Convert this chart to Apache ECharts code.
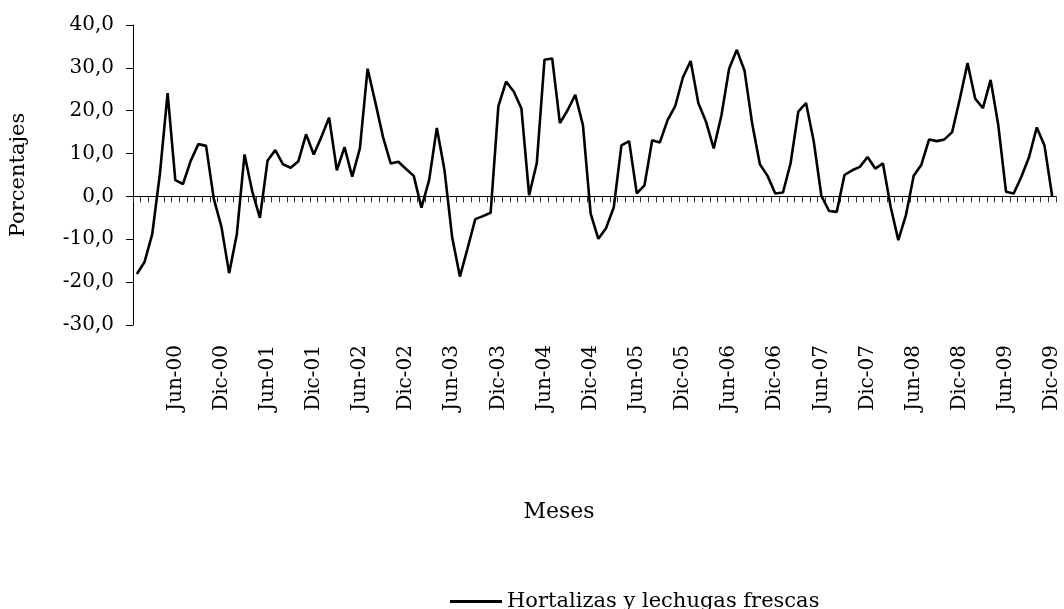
<!DOCTYPE html>
<html>
<head>
<meta charset="utf-8">
<script src="https://cdn.jsdelivr.net/npm/echarts@6/dist/echarts.min.js"></script>
<style>
  html, body { margin: 0; padding: 0; background: #fff; }
  #chart { width: 1064px; height: 609px; }
</style>
</head>
<body>
<div id="chart"></div>
<script>
// Variación interanual mensual (%), enero 2000 – diciembre 2009
const years = ['00', '01', '02', '03', '04', '05', '06', '07', '08', '09'];
const monthNames = ['Ene', 'Feb', 'Mar', 'Abr', 'May', 'Jun', 'Jul', 'Ago', 'Sep', 'Oct', 'Nov', 'Dic'];

const hortalizas = [
  -18.1, -15.3, -8.8, 5.3, 24.1, 3.8, 2.9, 8.3, 12.2, 11.8, -0.5, -7.1,
  -17.9, -8.8, 9.8, 1.2, -5.0, 8.4, 10.8, 7.5, 6.7, 8.2, 14.5, 9.8,
  13.9, 18.4, 6.1, 11.5, 4.6, 11.2, 29.8, 22.0, 13.9, 7.7, 8.1, 6.4,
  4.8, -2.6, 3.8, 16.0, 6.1, -9.6, -18.7, -12.1, -5.3, -4.6, -3.8, 21.0,
  26.8, 24.5, 20.5, 0.3, 7.8, 31.9, 32.2, 17.1, 20.1, 23.7, 16.6, -4.0,
  -9.9, -7.4, -2.6, 11.9, 12.9, 0.7, 2.6, 13.1, 12.6, 17.8, 21.1, 27.8,
  31.6, 21.8, 17.4, 11.2, 18.9, 29.8, 34.2, 29.4, 17.0, 7.5, 4.8, 0.7,
  0.9, 7.8, 19.8, 21.8, 12.9, 0.1, -3.4, -3.6, 5.0, 6.1, 6.9, 9.2,
  6.5, 7.7, -2.4, -10.2, -4.3, 4.8, 7.4, 13.3, 12.9, 13.3, 15.0, 22.8,
  31.1, 22.8, 20.6, 27.2, 16.6, 1.1, 0.7, 4.6, 9.2, 16.1, 11.9, 0.1
];

const yTicks = [-30, -20, -10, 0, 10, 20, 30, 40];
const seriesName = 'Hortalizas y lechugas frescas';
const xTitle = 'Meses';
const yTitle = 'Porcentajes';

// Month labels such as "Jun-00", "Dic-00"
const categories = [];
years.forEach(y => monthNames.forEach(m => categories.push(m + '-' + y)));

const FONT = 'DejaVu Serif';
const chart = echarts.init(document.getElementById('chart'), null, { renderer: 'canvas' });

chart.setOption({
  backgroundColor: '#ffffff',
  animation: false,
  grid: { left: 127, right: 8, top: 25, bottom: 284, containLabel: false },
  xAxis: [
    {
      // axis line drawn through zero, with a tick between every month
      type: 'category',
      data: categories,
      boundaryGap: true,
      axisLine: { onZero: true, lineStyle: { color: '#000', width: 1 } },
      axisTick: { show: true, interval: 0, length: 6, lineStyle: { color: '#333', width: 1 } },
      axisLabel: { show: false },
      splitLine: { show: false }
    },
    {
      // labels along the bottom of the plot area, every six months
      type: 'category',
      data: categories,
      boundaryGap: true,
      position: 'bottom',
      axisLine: { show: false, onZero: false },
      axisTick: { show: false },
      axisLabel: {
        show: true,
        rotate: 90,
        margin: 20,
        interval: (i) => i % 6 === 5,
        fontFamily: FONT,
        fontSize: 20,
        color: '#000'
      },
      splitLine: { show: false }
    }
  ],
  yAxis: {
    type: 'value',
    min: yTicks[0],
    max: yTicks[yTicks.length - 1],
    interval: 10,
    axisLine: { show: true, lineStyle: { color: '#000', width: 1 } },
    axisTick: { show: true, length: 7, lineStyle: { color: '#000', width: 1 } },
    axisLabel: {
      margin: 19,
      fontFamily: FONT,
      fontSize: 20,
      color: '#000',
      formatter: (v) => v.toFixed(1).replace('.', ',')
    },
    splitLine: { show: false },
    name: yTitle,
    nameLocation: 'middle',
    nameRotate: 90,
    nameGap: 104,
    nameTextStyle: { fontFamily: FONT, fontSize: 21, color: '#000' }
  },
  legend: {
    data: [{ name: seriesName, icon: 'rect' }],
    left: 445,
    top: 586,
    itemWidth: 52,
    itemHeight: 3,
    itemGap: 5,
    textStyle: { fontFamily: FONT, fontSize: 21, color: '#000' }
  },
  graphic: [
    {
      type: 'text',
      x: 559,
      y: 512,
      style: {
        text: xTitle,
        font: '22px "DejaVu Serif"',
        fill: '#000',
        textAlign: 'center',
        textVerticalAlign: 'middle'
      }
    }
  ],
  series: [
    {
      name: seriesName,
      type: 'line',
      xAxisIndex: 0,
      data: hortalizas,
      symbol: 'none',
      smooth: false,
      lineStyle: { color: '#000', width: 2.6 },
      itemStyle: { color: '#000' }
    }
  ]
});
</script>
</body>
</html>
